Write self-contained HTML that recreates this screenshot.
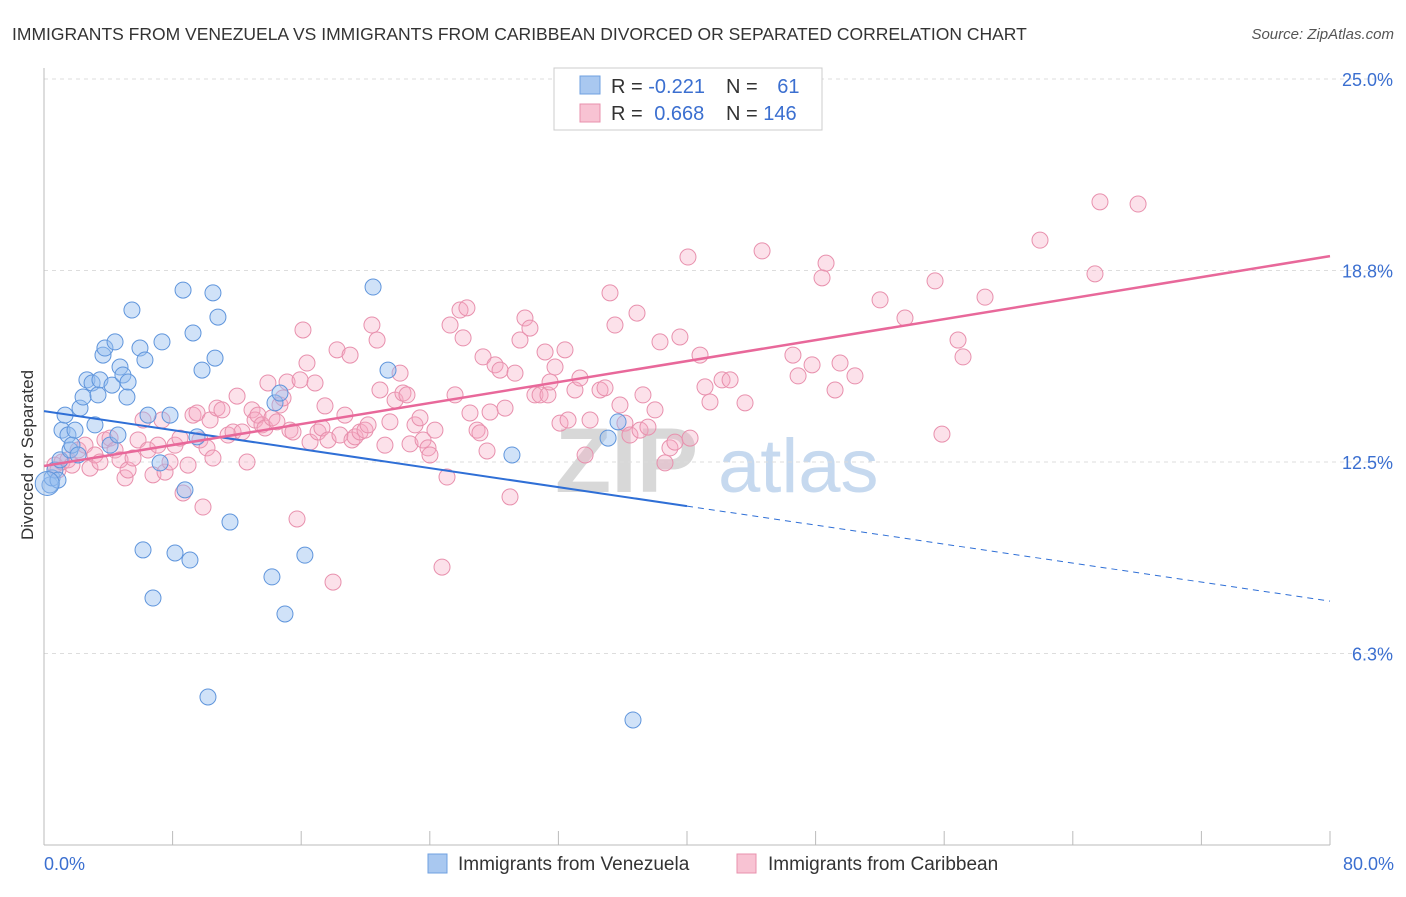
<!DOCTYPE html>
<html><head><meta charset="utf-8"><style>
body{margin:0;background:#fff;font-family:"Liberation Sans",sans-serif}
svg text{font-family:"Liberation Sans",sans-serif}
</style></head><body>
<svg id="chart" width="1406" height="892" viewBox="0 0 1406 892" xmlns="http://www.w3.org/2000/svg">
<text x="12" y="40" font-size="17.5" fill="#333">IMMIGRANTS FROM VENEZUELA VS IMMIGRANTS FROM CARIBBEAN DIVORCED OR SEPARATED CORRELATION CHART</text>
<text x="1394" y="39" font-size="15" fill="#555" text-anchor="end" font-style="italic">Source: ZipAtlas.com</text>
<g id="watermark">
<text x="555" y="492" font-size="92" fill="#d8d8d8" font-family="Liberation Serif" font-weight="bold">ZIP</text>
<text x="718" y="492" font-size="76" fill="#c6d9ef">atlas</text>
</g>
<g id="grid"></g><g id="axes"></g><g id="pts"></g><g id="lines"></g>
<text transform="translate(33,455) rotate(-90)" font-size="17" fill="#333" text-anchor="middle">Divorced or Separated</text>
<g>
<rect x="554" y="68" width="268" height="62" fill="#fff" stroke="#ccc"/>
<rect x="580" y="76" width="20" height="18" fill="#a9c8f0" stroke="#6fa0e0"/>
<rect x="580" y="104" width="20" height="18" fill="#f8c3d3" stroke="#e890ad"/>
<text x="611" y="93" font-size="20" fill="#333">R = <tspan fill="#3b6fd0">-0.221</tspan></text>
<text x="726" y="93" font-size="20" fill="#333">N = <tspan fill="#3b6fd0" dx="14">61</tspan></text>
<text x="611" y="120" font-size="20" fill="#333">R = <tspan fill="#3b6fd0" dx="6">0.668</tspan></text>
<text x="726" y="120" font-size="20" fill="#333">N = <tspan fill="#3b6fd0">146</tspan></text>
</g>
<g>
<rect x="428" y="854" width="19" height="19" fill="#a9c8f0" stroke="#6fa0e0"/>
<text x="458" y="870" font-size="19" fill="#333">Immigrants from Venezuela</text>
<rect x="737" y="854" width="19" height="19" fill="#f8c3d3" stroke="#e890ad"/>
<text x="768" y="870" font-size="19" fill="#333">Immigrants from Caribbean</text>
</g>
</svg>
<script>
const yTicks=[6.25,12.5,18.75,25];
const yTickLabels=["6.3%","12.5%","18.8%","25.0%"];
const xTickLabels=["0.0%","80.0%"];
const blueX=[.37,.5,.68,.87,1,1.12,1.31,1.49,1.62,1.74,1.93,2.12,2.24,2.43,2.67,2.99,3.17,3.36,3.48,3.67,3.79,4.11,4.23,4.42,4.6,4.73,4.91,5.16,5.23,5.47,5.97,6.16,6.28,6.47,6.78,7.22,7.34,7.84,8.15,8.65,8.77,9.08,9.27,9.52,9.83,10.2,10.51,10.64,10.82,11.57,14.18,14.37,14.68,14.99,16.23,20.47,21.4,29.11,35.09,35.71,36.64];
const blueY=[11.75,11.98,12.24,11.91,12.57,13.54,14.03,13.38,12.89,13.05,13.54,12.73,14.26,14.62,15.18,15.08,13.71,14.69,15.18,15.99,16.22,13.05,15.01,16.42,13.38,15.6,15.34,14.62,15.11,17.46,16.22,9.63,15.83,14.03,8.06,12.47,16.42,14.03,9.53,18.11,11.59,9.3,16.71,13.32,15.5,4.83,18.02,15.89,17.23,10.54,8.75,14.43,14.75,7.54,9.46,18.21,15.5,12.73,13.28,13.81,4.08];
const pinkX=[.68,.87,1.12,1.49,1.74,2.12,2.55,2.86,3.17,3.48,3.79,4.11,4.42,4.73,5.04,5.23,5.54,5.85,6.16,6.47,6.78,7.09,7.34,7.53,7.84,8.15,8.46,8.65,8.96,9.27,9.52,9.7,9.89,10.14,10.33,10.51,10.76,11.07,11.45,11.76,12.01,12.32,12.63,12.94,13.13,13.31,13.56,13.75,13.93,14.18,14.49,14.68,14.87,15.12,15.3,15.49,15.74,15.93,16.11,16.36,16.55,16.86,17.05,17.29,17.48,17.67,17.98,18.23,18.41,18.72,19.04,19.16,19.35,19.66,19.97,20.16,20.4,20.72,20.9,21.21,21.52,21.84,22.15,22.33,22.58,22.77,23.08,23.39,23.58,23.89,24.01,24.32,24.76,25.07,25.26,25.57,25.88,26.07,26.31,26.5,26.94,27.12,27.31,27.56,27.75,28.06,28.37,28.68,28.99,29.3,29.61,29.92,30.23,30.54,30.86,31.17,31.35,31.48,31.79,32.1,32.41,32.6,33.03,33.34,33.66,33.97,34.59,34.9,35.21,35.52,35.83,36.14,36.45,36.89,37.08,37.26,37.57,38.01,38.32,38.63,38.94,39.25,39.56,40.06,40.19,40.81,41.12,41.43,42.18,42.68,43.61,44.67,46.59,46.91,47.78,48.4,48.65,49.21,49.52,50.45,52.01,53.56,55.43,55.86,56.86,57.17,58.54,61.96,65.38,65.69,68.06];
const pinkY=[12.4,12.24,12.5,12.57,12.4,12.89,13.05,12.3,12.73,12.5,13.22,13.28,12.89,12.57,11.98,12.24,12.63,13.22,13.87,12.89,12.08,13.05,13.87,12.17,12.5,13.05,13.28,11.49,12.4,14.03,14.1,13.22,11.03,12.96,13.87,12.63,14.26,14.2,13.38,13.48,14.65,13.48,12.5,14.2,13.87,14.03,13.71,13.61,15.08,13.94,13.81,14.36,14.59,15.11,13.54,13.48,10.64,15.18,16.81,15.73,13.15,15.08,13.48,13.61,14.33,13.22,8.58,16.16,13.38,14.03,15.99,13.22,13.32,13.48,13.54,13.71,16.97,16.48,14.85,13.05,13.81,14.52,15.4,14.75,14.69,13.09,13.71,13.94,13.22,12.96,12.73,13.54,9.07,12.01,16.97,14.69,17.46,16.55,17.53,14.1,13.54,13.45,15.93,12.86,14.13,15.67,15.5,14.26,11.36,15.4,16.48,17.2,16.87,14.69,14.69,16.09,14.69,15.11,15.6,13.77,16.16,13.87,14.85,15.24,12.73,13.87,14.85,14.92,18.02,16.97,14.36,13.77,13.38,17.36,13.54,14.69,13.64,14.2,16.42,12.47,12.96,13.15,16.58,19.19,13.28,15.99,14.95,14.46,15.18,15.18,14.43,19.39,15.99,15.31,15.67,18.51,18.99,14.85,15.73,15.31,17.79,17.2,18.41,13.41,16.48,15.93,17.88,19.74,18.64,20.99,20.92];
const blueFit=[14.16,-0.0775];
const pinkFit=[12.37,0.0856];
const NS='http://www.w3.org/2000/svg';
const X0=44,X1=1330,YB=845,YT=79;
const sx=v=>X0+(v/80)*(X1-X0);
const sy=v=>YB-(v/25)*(YB-YT);
function mk(tag,attrs,parent){const e=document.createElementNS(NS,tag);for(const k in attrs)e.setAttribute(k,attrs[k]);document.getElementById(parent).appendChild(e);return e;}
yTicks.forEach((t,i)=>{
 const g=mk('line',{x1:X0,x2:1394,y1:sy(t),y2:sy(t),stroke:'#ddd','stroke-dasharray':'4,4'},'grid');
 
 
 const l=mk('text',{x:1393,y:sy(t)+7,'font-size':18,fill:'#3b6fd0','text-anchor':'end'},'axes');
 l.textContent=yTickLabels[i];
 
 
});
const ax=mk('line',{x1:X0,x2:X1,y1:YB,y2:YB,stroke:'#bbb'},'axes');


const ay=mk('line',{x1:X0,x2:X0,y1:68,y2:YB,stroke:'#bbb'},'axes');


for(let i=0;i<=10;i++){const t=mk('line',{x1:sx(i*8),x2:sx(i*8),y1:YB,y2:YB-14,stroke:'#bbb'},'axes');
 
 }
[[0,'start',X0],[80,'end',1394]].forEach((d,i)=>{const l=mk('text',{x:d[2],y:870,'font-size':18,fill:'#3b6fd0','text-anchor':d[1]},'axes');l.textContent=xTickLabels[i];
 
 });
pinkX.forEach((x,i)=>{const c=mk('circle',{cx:sx(x),cy:sy(pinkY[i]),r:8,fill:'rgba(245,170,195,0.35)',stroke:'#e890ad','stroke-width':1},'pts');
 
 });
blueX.forEach((x,i)=>{const c=mk('circle',{cx:sx(x),cy:sy(blueY[i]),r:8,fill:'rgba(150,190,240,0.45)',stroke:'#5f95dc','stroke-width':1},'pts');
 
 });
const big=mk('circle',{cx:sx(0.2),cy:sy(11.8),r:12,fill:'rgba(150,190,240,0.45)',stroke:'#5f95dc'},'pts');


const f=(fit,x)=>fit[0]+fit[1]*x;
const bl=mk('line',{x1:sx(0),y1:sy(f(blueFit,0)),x2:sx(40),y2:sy(f(blueFit,40)),stroke:'#2f6fd6','stroke-width':2},'lines');


const bd=mk('line',{x1:sx(40),y1:sy(f(blueFit,40)),x2:sx(80),y2:sy(f(blueFit,80)),stroke:'#2f6fd6','stroke-width':1,'stroke-dasharray':'6,5'},'lines');


const pl=mk('line',{x1:sx(0),y1:sy(f(pinkFit,0)),x2:sx(80),y2:sy(f(pinkFit,80)),stroke:'#e8689a','stroke-width':2.5},'lines');


</script>
</body></html>
